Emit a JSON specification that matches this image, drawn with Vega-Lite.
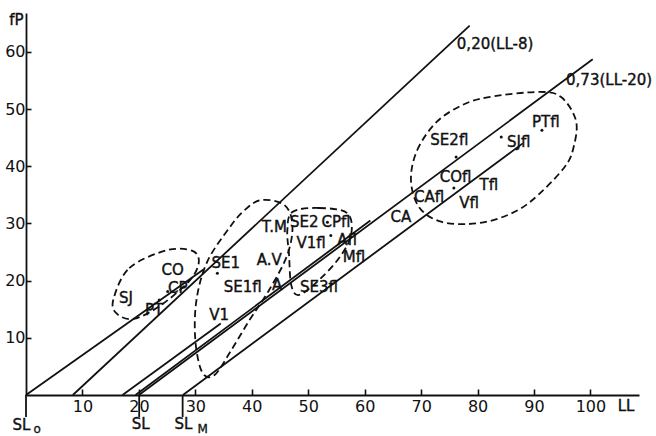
{
  "$schema": "https://vega.github.io/schema/vega-lite/v6.json",
  "width": 613,
  "height": 382,
  "autosize": {"type": "none"},
  "padding": {"left": 26, "top": 13, "right": 17, "bottom": 41},
  "background": "white",
  "config": {"view": {"stroke": null}, "font": "DejaVu Sans"},
  "datasets": {
    "lines": [
      {"id": "U", "LL": 8.3, "fP": 0}, {"id": "U", "LL": 78.6, "fP": 64.6},
      {"id": "O", "LL": 0, "fP": 0}, {"id": "O", "LL": 31.5, "fP": 22},
      {"id": "V", "LL": 17.1, "fP": 0}, {"id": "V", "LL": 34.5, "fP": 12.5},
      {"id": "A", "LL": 20, "fP": 0}, {"id": "A", "LL": 100.4, "fP": 58.7},
      {"id": "P", "LL": 19.4, "fP": 0}, {"id": "P", "LL": 61, "fP": 30.5},
      {"id": "M", "LL": 27.8, "fP": 0}, {"id": "M", "LL": 88, "fP": 44},
      {"id": "s0", "LL": 0, "fP": 0}, {"id": "s0", "LL": 0, "fP": -3.85},
      {"id": "s1", "LL": 20.05, "fP": 0}, {"id": "s1", "LL": 20.05, "fP": -3.85},
      {"id": "s2", "LL": 27.75, "fP": 0}, {"id": "s2", "LL": 27.75, "fP": -3.85}
    ],
    "loops": [
      {"id": "sj", "i": 1, "LL": 15.5, "fP": 16.8},
      {"id": "sj", "i": 2, "LL": 18.3, "fP": 22.2},
      {"id": "sj", "i": 3, "LL": 24.9, "fP": 25.3},
      {"id": "sj", "i": 4, "LL": 29.5, "fP": 25.2},
      {"id": "sj", "i": 5, "LL": 30.6, "fP": 23.1},
      {"id": "sj", "i": 6, "LL": 28.8, "fP": 19.8},
      {"id": "sj", "i": 7, "LL": 23.6, "fP": 15.5},
      {"id": "sj", "i": 8, "LL": 19.0, "fP": 13.3},
      {"id": "sj", "i": 9, "LL": 16.0, "fP": 14.3},
      {"id": "mid", "i": 1, "LL": 41.7, "fP": 34.1},
      {"id": "mid", "i": 2, "LL": 45.8, "fP": 33.2},
      {"id": "mid", "i": 3, "LL": 47.2, "fP": 29.7},
      {"id": "mid", "i": 4, "LL": 46.3, "fP": 24.5},
      {"id": "mid", "i": 5, "LL": 43.1, "fP": 18.4},
      {"id": "mid", "i": 6, "LL": 39.6, "fP": 13.1},
      {"id": "mid", "i": 7, "LL": 36.4, "fP": 7.9},
      {"id": "mid", "i": 8, "LL": 33.4, "fP": 3.5},
      {"id": "mid", "i": 9, "LL": 31.2, "fP": 4.0},
      {"id": "mid", "i": 10, "LL": 30.0, "fP": 9.6},
      {"id": "mid", "i": 11, "LL": 30.2, "fP": 16.6},
      {"id": "mid", "i": 12, "LL": 32.1, "fP": 23.3},
      {"id": "mid", "i": 13, "LL": 36.0, "fP": 29.2},
      {"id": "mid", "i": 14, "LL": 38.7, "fP": 32.3},
      {"id": "se", "i": 1, "LL": 47.2, "fP": 32.0},
      {"id": "se", "i": 2, "LL": 51.9, "fP": 32.7},
      {"id": "se", "i": 3, "LL": 56.9, "fP": 31.8},
      {"id": "se", "i": 4, "LL": 57.6, "fP": 28.0},
      {"id": "se", "i": 5, "LL": 55.5, "fP": 24.0},
      {"id": "se", "i": 6, "LL": 51.9, "fP": 20.1},
      {"id": "se", "i": 7, "LL": 48.4, "fP": 17.5},
      {"id": "se", "i": 8, "LL": 47.0, "fP": 19.2},
      {"id": "se", "i": 9, "LL": 46.6, "fP": 24.5},
      {"id": "se", "i": 10, "LL": 46.3, "fP": 28.8},
      {"id": "fl", "i": 1, "LL": 68.2, "fP": 37.6},
      {"id": "fl", "i": 2, "LL": 69.3, "fP": 42.8},
      {"id": "fl", "i": 3, "LL": 72.7, "fP": 47.7},
      {"id": "fl", "i": 4, "LL": 77.3, "fP": 50.7},
      {"id": "fl", "i": 5, "LL": 82.0, "fP": 52.1},
      {"id": "fl", "i": 6, "LL": 90.9, "fP": 53.0},
      {"id": "fl", "i": 7, "LL": 94.8, "fP": 52.1},
      {"id": "fl", "i": 8, "LL": 97.4, "fP": 48.1},
      {"id": "fl", "i": 9, "LL": 97.1, "fP": 43.7},
      {"id": "fl", "i": 10, "LL": 95.3, "fP": 39.7},
      {"id": "fl", "i": 11, "LL": 89.1, "fP": 33.6},
      {"id": "fl", "i": 12, "LL": 83.8, "fP": 30.9},
      {"id": "fl", "i": 13, "LL": 78.5, "fP": 29.9},
      {"id": "fl", "i": 14, "LL": 73.2, "fP": 30.4},
      {"id": "fl", "i": 15, "LL": 69.6, "fP": 32.9}
    ],
    "dots": [
      {"LL": 25.1, "fP": 18.1}, {"LL": 23.6, "fP": 16.6}, {"LL": 33.9, "fP": 21.3},
      {"LL": 53.4, "fP": 30.2}, {"LL": 54.0, "fP": 27.9}, {"LL": 75.8, "fP": 36.2},
      {"LL": 91.4, "fP": 46.3}, {"LL": 76.2, "fP": 41.6}, {"LL": 84.2, "fP": 45.1}
    ],
    "labels": [
      {"t": "SJ", "LL": 17.7, "fP": 16.9}, {"t": "CO", "LL": 26.0, "fP": 21.9},
      {"t": "CP", "LL": 26.9, "fP": 18.7}, {"t": "PT", "LL": 22.7, "fP": 14.9},
      {"t": "SE1", "LL": 35.4, "fP": 23.0}, {"t": "SE1fl", "LL": 38.4, "fP": 18.9},
      {"t": "V1", "LL": 34.2, "fP": 14.0}, {"t": "T.M", "LL": 44.0, "fP": 29.4},
      {"t": "A.V", "LL": 43.1, "fP": 23.6}, {"t": "SE2", "LL": 49.3, "fP": 30.3},
      {"t": "CPfl", "LL": 54.9, "fP": 30.3}, {"t": "V1fl", "LL": 50.5, "fP": 26.5},
      {"t": "Afl", "LL": 56.9, "fP": 27.1}, {"t": "Mfl", "LL": 58.1, "fP": 24.2},
      {"t": "A", "LL": 44.5, "fP": 19.2}, {"t": "SE3fl", "LL": 51.9, "fP": 18.9},
      {"t": "CA", "LL": 66.4, "fP": 31.2}, {"t": "CAfl", "LL": 71.4, "fP": 34.7},
      {"t": "COfl", "LL": 76.1, "fP": 38.2}, {"t": "Tfl", "LL": 82.0, "fP": 36.7},
      {"t": "Vfl", "LL": 78.5, "fP": 33.6}, {"t": "SE2fl", "LL": 75.0, "fP": 44.6},
      {"t": "SJfl", "LL": 87.3, "fP": 44.3}, {"t": "PTfl", "LL": 92.1, "fP": 47.8}
    ],
    "big": [
      {"t": "0,20(LL-8)", "LL": 83.1, "fP": 61.4},
      {"t": "0,73(LL-20)", "LL": 103.3, "fP": 55.1},
      {"t": "fP", "LL": -1.7, "fP": 65.6},
      {"t": "LL", "LL": 106.3, "fP": -1.9},
      {"t": "SL", "LL": -0.8, "fP": -5.3},
      {"t": "SL", "LL": 20.3, "fP": -5.1},
      {"t": "SL", "LL": 27.9, "fP": -5.1}
    ],
    "subs": [
      {"t": "o", "LL": 2.0, "fP": -5.9},
      {"t": "M", "LL": 31.3, "fP": -5.9}
    ]
  },
  "encoding": {
    "x": {
      "field": "LL", "type": "quantitative",
      "scale": {"domain": [0, 108.6], "nice": false, "zero": false},
      "axis": {
        "values": [10, 20, 30, 40, 50, 60, 70, 80, 90, 100], "title": null, "grid": false,
        "domainColor": "#111", "domainWidth": 1.8, "tickColor": "#111", "tickWidth": 1.6,
        "tickSize": -6, "labelPadding": 9, "labelFontSize": 16, "labelColor": "#111",
        "labelFont": "DejaVu Sans"
      }
    },
    "y": {
      "field": "fP", "type": "quantitative",
      "scale": {"domain": [0, 66.8], "nice": false, "zero": false},
      "axis": {
        "values": [10, 20, 30, 40, 50, 60], "title": null, "grid": false,
        "domainColor": "#111", "domainWidth": 1.8, "tickColor": "#111", "tickWidth": 1.6,
        "tickSize": -5, "labelPadding": 6, "labelFontSize": 16, "labelColor": "#111",
        "labelFont": "DejaVu Sans"
      }
    }
  },
  "layer": [
    {
      "data": {"name": "lines"},
      "mark": {"type": "line", "color": "#111", "strokeWidth": 1.8},
      "encoding": {"detail": {"field": "id"}}
    },
    {
      "data": {"name": "loops"},
      "mark": {"type": "line", "color": "#111", "strokeWidth": 1.8, "strokeDash": [7, 4], "interpolate": "cardinal-closed"},
      "encoding": {"detail": {"field": "id"}, "order": {"field": "i"}}
    },
    {
      "data": {"name": "dots"},
      "mark": {"type": "point", "filled": true, "color": "#111", "size": 9, "opacity": 1}
    },
    {
      "data": {"name": "labels"},
      "mark": {"type": "text", "fontSize": 15, "color": "#111", "stroke": "#111", "strokeWidth": 0.4, "align": "center", "baseline": "middle", "font": "DejaVu Sans"},
      "encoding": {"text": {"field": "t"}}
    },
    {
      "data": {"name": "big"},
      "mark": {"type": "text", "fontSize": 15, "color": "#111", "stroke": "#111", "strokeWidth": 0.4, "align": "center", "baseline": "middle", "font": "DejaVu Sans"},
      "encoding": {"text": {"field": "t"}}
    },
    {
      "data": {"name": "subs"},
      "mark": {"type": "text", "fontSize": 12, "color": "#111", "stroke": "#111", "strokeWidth": 0.3, "align": "center", "baseline": "middle", "font": "DejaVu Sans"},
      "encoding": {"text": {"field": "t"}}
    }
  ]
}
